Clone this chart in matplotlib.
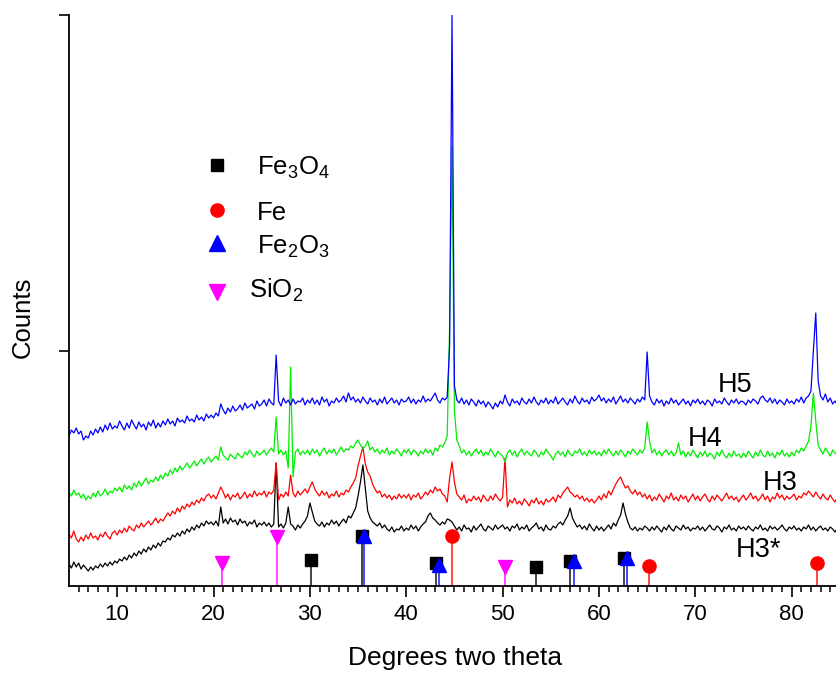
import numpy as np
from matplotlib import pyplot as plt

plt.rcParams['font.family'] = ['Liberation Sans', 'DejaVu Sans']
plt.rcParams['mathtext.fontset'] = 'custom'
plt.rcParams['mathtext.rm'] = 'Liberation Sans'

# two theta grid: 5.00 ... 84.75, step 0.25 deg
two_theta = np.arange(320) * 0.25 + 5.0

# counts (arbitrary units, no labels on the axis)
h5 = [150,156,153,158,152,155,146,150,148,155,151,157,153,159,154,161,156,163,157,160,
      158,165,160,156,163,158,166,161,157,164,159,162,156,164,160,166,158,163,159,165,
      161,167,162,165,160,168,164,166,163,170,165,167,164,171,166,169,165,172,168,171,
      168,173,170,182,176,172,178,174,180,175,177,181,176,183,178,180,182,177,185,180,
      182,186,180,187,183,181,231,185,180,188,183,186,181,187,182,185,184,188,181,186,
      183,188,182,186,181,189,184,187,180,185,183,188,184,186,190,184,193,186,189,184,
      187,183,189,185,182,188,184,186,181,187,183,189,182,185,188,183,186,181,187,184,
      185,189,183,187,182,186,184,190,184,187,185,189,193,186,183,188,186,189,240,571,
      200,186,183,188,182,186,181,187,184,180,186,182,185,179,184,181,177,183,179,185,
      182,191,184,180,187,183,185,181,188,184,182,187,183,189,184,181,186,183,188,182,
      186,183,189,182,185,188,184,181,187,183,190,185,182,188,184,186,182,189,185,187,
      191,185,188,183,187,184,189,182,186,190,184,187,183,188,185,182,187,184,189,186,
      234,190,184,181,187,183,186,180,185,182,188,183,186,181,184,187,182,185,180,186,
      183,187,182,185,181,186,184,180,187,183,185,182,188,184,181,186,183,187,182,185,
      184,181,186,183,187,185,182,188,190,186,184,188,183,187,182,186,184,181,187,183,
      185,182,187,184,189,183,188,190,195,235,273,205,190,186,192,184,188,182,185,181]

h4 = [94,90,96,91,93,88,92,86,90,87,93,89,95,90,92,97,91,95,93,98,
      95,99,94,101,97,100,96,103,99,105,100,104,108,102,106,104,109,105,111,107,
      113,110,116,112,118,114,120,116,119,123,118,121,125,120,124,127,122,126,129,124,
      127,130,126,139,131,128,126,132,129,127,133,130,128,134,131,136,132,129,135,131,
      133,136,131,135,138,134,169,132,136,131,135,118,219,109,134,137,131,135,132,136,
      131,137,133,136,130,135,138,132,136,133,137,131,135,139,134,137,136,140,138,143,
      146,141,137,140,145,136,139,134,137,132,136,133,138,131,135,132,137,134,130,136,
      133,137,131,136,134,130,135,132,137,133,136,131,138,135,141,139,143,150,260,439,
      175,146,140,133,136,131,135,130,134,137,132,136,130,134,131,137,133,129,135,132,
      130,124,133,136,131,135,129,134,137,131,135,132,130,136,133,129,134,131,137,133,
      130,126,132,135,131,134,129,136,132,130,135,133,137,131,134,130,136,132,135,131,
      134,130,136,132,137,133,130,135,131,136,133,129,135,132,137,134,131,136,133,138,
      164,145,133,137,131,135,130,134,136,131,135,130,133,143,131,135,129,134,130,136,
      132,128,134,130,135,129,133,131,127,134,130,136,131,128,133,129,135,130,132,128,
      133,129,135,131,128,134,130,136,131,129,135,130,133,128,134,131,136,130,133,129,
      134,130,136,133,138,135,140,145,160,193,165,141,136,132,138,134,130,136,133,131]

h3 = [52,48,55,47,44,49,45,51,47,53,48,50,46,52,49,54,50,47,53,55,
      51,56,53,58,54,60,57,55,61,58,63,59,62,65,61,64,68,63,67,65,
      69,73,70,75,72,78,74,80,77,82,79,84,81,86,83,88,85,90,92,88,
      91,87,93,99,94,88,92,86,91,89,93,87,90,94,88,92,89,95,90,93,
      91,95,89,94,92,96,123,86,92,89,94,90,111,93,89,95,91,94,97,93,
      99,104,97,93,90,95,91,94,88,92,90,95,89,93,91,96,94,99,103,108,
      120,130,139,122,114,110,102,97,93,95,89,92,88,91,86,90,87,92,88,91,
      88,92,86,91,89,93,87,90,94,91,96,93,99,95,97,92,90,84,108,124,
      104,92,89,86,91,83,87,85,90,86,89,84,91,87,85,90,86,92,88,85,
      89,128,79,86,83,88,82,85,81,87,84,80,86,83,88,82,85,81,87,84,
      86,89,84,91,88,93,96,99,94,92,89,91,87,90,85,88,84,87,83,86,
      90,86,92,88,95,91,97,102,106,109,103,98,100,95,92,96,91,94,89,92,
      87,91,85,89,86,92,88,84,90,87,93,86,89,85,91,87,90,84,88,92,
      86,90,85,89,92,87,84,90,86,91,88,85,89,93,87,90,86,89,84,88,
      91,86,89,93,87,90,85,88,92,86,90,84,89,87,93,88,91,86,90,87,
      89,92,86,90,88,93,91,95,92,89,94,90,87,92,88,86,91,87,84,89]

h3s = [22,18,24,19,23,17,21,18,15,19,16,20,18,22,19,23,20,24,21,25,
       23,27,25,29,26,31,28,33,30,35,32,37,34,39,36,41,38,43,40,45,
       44,48,46,51,49,53,50,55,52,57,54,59,56,61,58,63,60,65,62,64,
       61,65,60,79,63,67,62,68,64,66,61,67,63,65,60,64,62,66,59,63,
       61,64,60,63,59,62,123,59,62,58,63,79,62,60,56,61,58,62,65,70,
       83,74,65,62,60,64,59,63,61,66,62,65,60,64,67,63,70,68,73,78,
       90,104,121,98,75,68,64,62,60,63,58,61,57,55,59,54,57,56,60,55,
       58,56,61,57,60,55,59,62,64,70,73,68,66,63,61,64,62,67,66,64,
       60,56,59,55,61,57,58,54,60,56,59,62,57,55,60,58,56,61,57,59,
       61,57,59,55,60,58,62,56,59,57,61,55,58,60,63,57,59,55,61,57,
       56,60,58,62,64,61,66,70,78,68,63,59,61,57,60,56,62,58,55,60,
       56,59,55,58,61,57,63,60,66,71,83,72,64,58,56,59,55,58,56,60,
       58,55,59,56,60,57,54,59,56,61,57,55,60,58,56,61,57,59,55,58,
       57,60,56,59,55,58,61,57,56,60,58,54,59,57,61,56,58,55,60,57,
       59,56,60,57,55,59,57,61,56,58,55,60,57,59,56,58,61,57,55,59,
       57,60,56,58,55,59,57,61,56,59,55,58,60,56,58,55,59,57,54,58]

# reference phase lines (position, stem height)
fe3o4_pos = [30.1, 35.4, 43.1, 53.5, 57.0, 62.6]
fe3o4_h = [26, 50, 23, 19, 25, 28]
fe_pos = [44.7, 65.2, 82.6]
fe_h = [50, 20, 23]
fe2o3_pos = [35.65, 43.4, 57.4, 62.9]
fe2o3_h = [50, 21, 25, 28]
sio2_pos = [20.9, 26.6, 50.3]
sio2_h = [23, 49, 19]

fig = plt.figure(figsize=(8.36, 6.77), dpi=100)
ax = fig.add_axes([69/836, 91/677, 1 - 69/836, 571/677])

ax.plot(two_theta, h3s, color='black', lw=0.9)
ax.plot(two_theta, h3, color='red', lw=0.9)
ax.plot(two_theta, h4, color='#00ee00', lw=0.9)
ax.plot(two_theta, h5, color='blue', lw=0.9)

phases = [(fe3o4_pos, fe3o4_h, 'black', 's', 8),
          (fe2o3_pos, fe2o3_h, 'blue', '^', 10),
          (fe_pos, fe_h, 'red', 'o', 9.5),
          (sio2_pos, sio2_h, 'magenta', 'v', 10)]
for pos, hh, col, mk, ms in phases:
    ax.vlines(pos, 0, hh, color=col, lw=1.2, alpha=0.85)
    ax.plot(pos, hh, ls='none', marker=mk, color=col, ms=ms)

# sample labels
ax.text(74.1, 201, 'H5', fontsize=19.5, ha='center', va='center')
ax.text(71.0, 147, 'H4', fontsize=19.5, ha='center', va='center')
ax.text(78.8, 103, 'H3', fontsize=19.5, ha='center', va='center')
ax.text(76.6, 36, 'H3*', fontsize=19.5, ha='center', va='center')

# legend drawn by hand
leg = [('s', 'black', 8.5, r'Fe$\mathregular{_3}$O$\mathregular{_4}$', 165, 175, 257),
       ('o', 'red', 9.5, 'Fe', 210, 220, 257),
       ('^', 'blue', 11, r'Fe$\mathregular{_2}$O$\mathregular{_3}$', 243, 254, 257),
       ('v', 'magenta', 11, r'SiO$\mathregular{_2}$', 292, 298, 249)]
for mk, col, ms, lab, my, ty, tx in leg:
    fig.lines.append(plt.Line2D([217/836], [1 - my/677], marker=mk, color=col, ms=ms,
                                ls='none', transform=fig.transFigure))
    fig.text(tx/836, 1 - ty/677, lab, fontsize=18.5, va='baseline', ha='left')

ax.set_xlim(5, 84.6)
ax.set_ylim(0, 571)
ax.set_xticks(range(10, 90, 10))
ax.set_xticks(range(6, 85), minor=True)
ax.set_yticks([235, 571])
ax.set_yticklabels([])
ax.tick_params(axis='x', which='major', direction='out', length=8, width=1.2, labelsize=16, pad=5)
ax.tick_params(axis='x', which='minor', direction='out', length=4, width=1.1)
ax.tick_params(axis='y', direction='out', length=7.5, width=1.2)
for s in ['top', 'right']:
    ax.spines[s].set_visible(False)
for s in ['left', 'bottom']:
    ax.spines[s].set_linewidth(1.3)

ax.set_xlabel('Degrees two theta', fontsize=19)
ax.xaxis.set_label_coords((455 - 69) / (836 - 69), -(646 - 586) / 571)
ax.set_ylabel('Counts', fontsize=18.5)
ax.yaxis.set_label_coords(-(69 - 35) / (836 - 69), (586 - 317) / 571)

plt.savefig('out.png', dpi=100)
